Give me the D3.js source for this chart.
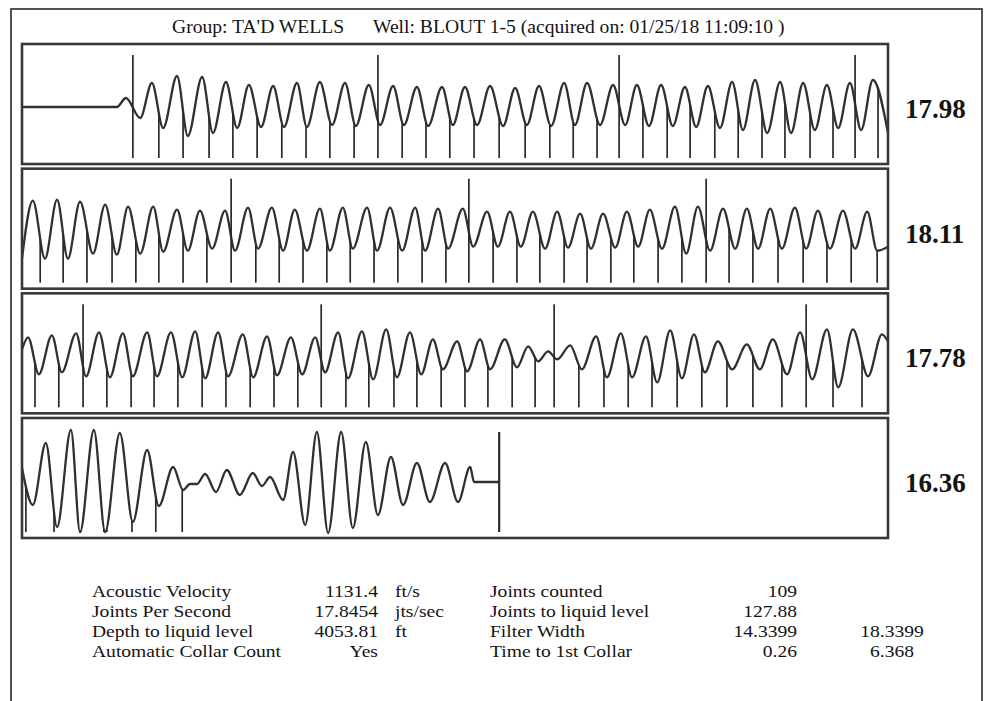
<!DOCTYPE html>
<html><head><meta charset="utf-8">
<script src="https://d3js.org/d3.v7.min.js"></script>
<style>
body{margin:0;background:#fff}
svg{display:block}
text{font-family:"Liberation Serif","Times New Roman",serif;fill:#141414}
</style>
</head><body>
<svg id="c" width="992" height="701"></svg>
<script>
// ---------- header ----------
const titleGroup = "Group: TA'D WELLS";
const titleWell = "Well: BLOUT 1-5 (acquired on: 01/25/18 11:09:10 )";

// ---------- per-panel joint rates (jts/sec) ----------
const panelRates = ["17.98", "18.11", "17.78", "16.36"];

// ---------- waveform extrema: [time ms within 2 s panel, signal amplitude] ----------
const wave1 = [[0,-3],[219,-3],[240,6],[273,-14],[300,21],[326,-24],[358,28],[383,-32],[416,27],[441,-29],
 [471,22],[497,-24],[524,19],[552,-23],[580,18],[605,-23],[635,21],[658,-23],[688,22],[716,-21],
 [746,21],[771,-22],[801,19],[827,-21],[857,18],[882,-21],[912,17],[938,-22],[970,17],[995,-21],
 [1023,17],[1051,-21],[1081,18],[1111,-22],[1139,16],[1166,-21],[1194,18],[1222,-22],[1252,21],[1277,-21],
 [1305,21],[1335,-21],[1365,19],[1393,-21],[1420,19],[1448,-22],[1476,19],[1503,-22],[1531,17],[1557,-23],
 [1584,18],[1612,-24],[1640,22],[1665,-26],[1693,24],[1721,-29],[1751,22],[1776,-29],[1804,21],[1831,-26],
 [1859,19],[1885,-24],[1912,21],[1938,-26],[1965,24],[2000,-29]];
const wave2 = [[0,-30],[25,28],[53,-30],[81,29],[106,-30],[134,27],[164,-25],[192,24],[219,-26],[245,22],
 [273,-25],[303,22],[326,-23],[358,19],[383,-22],[411,18],[439,-20],[469,18],[492,-22],[522,21],
 [545,-20],[577,21],[603,-22],[630,19],[658,-22],[688,20],[711,-22],[741,21],[764,-20],[797,21],
 [820,-22],[850,21],[878,-22],[908,21],[931,-22],[961,20],[984,-20],[1018,20],[1042,-18],[1074,17],
 [1099,-18],[1127,17],[1152,-18],[1180,17],[1208,-20],[1236,17],[1261,-19],[1289,15],[1314,-20],[1342,15],
 [1370,-19],[1397,17],[1423,-18],[1450,19],[1478,-20],[1508,22],[1534,-25],[1561,22],[1589,-22],[1619,20],
 [1647,-20],[1674,20],[1700,-20],[1728,20],[1755,-20],[1785,21],[1811,-20],[1838,18],[1866,-20],[1896,18],
 [1924,-20],[1952,17],[1975,-22],[2000,-18]];
const wave3 = [[0,4],[14,16],[39,-21],[69,18],[92,-19],[125,20],[148,-23],[178,21],[203,-24],[233,20],
 [256,-23],[289,21],[312,-23],[344,21],[370,-24],[400,22],[423,-25],[453,21],[476,-23],[510,19],
 [534,-24],[566,17],[589,-22],[621,16],[647,-21],[677,16],[700,-19],[730,21],[753,-25],[785,22],
 [811,-26],[841,24],[866,-24],[896,21],[922,-21],[949,14],[972,-16],[1005,12],[1028,-18],[1058,14],
 [1081,-16],[1115,14],[1143,-14],[1169,7],[1192,-8],[1215,2],[1236,-6],[1266,8],[1293,-16],[1326,17],
 [1351,-24],[1383,20],[1409,-24],[1441,17],[1467,-29],[1497,23],[1524,-25],[1552,19],[1577,-19],[1607,12],
 [1640,-16],[1674,9],[1704,-16],[1734,14],[1767,-21],[1797,21],[1825,-26],[1859,24],[1885,-34],[1919,24],
 [1954,-23],[1986,19],[2000,12]];
const wave4 = [[0,10],[25,-27],[55,35],[81,-49],[113,48],[134,-54],[166,48],[192,-54],[226,45],[256,-44],
 [289,28],[316,-28],[349,11],[372,-12],[388,-6],[404,-6],[423,4],[448,-14],[473,8],[503,-17],
 [533,5],[554,-8],[573,1],[603,-22],[626,26],[654,-47],[681,46],[707,-55],[737,46],[764,-50],
 [794,36],[822,-37],[852,21],[880,-27],[912,15],[942,-24],[977,15],[1007,-24],[1035,11],[1044,-4],[1102,-4]];

// ---------- detected collars (ms within panel); every 10th collar drawn tall ----------
const collars1 = [316,372,432,487,543,600,656,711,767,878,933,988,1044,1102,1162,1219,1273,1328,1434,1490,1543,1600,1654,1709,1762,1820,1873,1977];
const tenth1 = [256,822,1379,1924];
const collars2 = [42,95,150,208,263,316,372,427,540,594,649,704,758,813,868,924,979,1088,1143,1196,1252,1305,1360,1413,1469,1524,1633,1688,1746,1804,1859,1915,1975];
const tenth2 = [483,1032,1580];
const collars3 = [30,85,196,252,305,360,416,471,527,582,637,748,801,859,912,968,1023,1076,1132,1185,1286,1344,1400,1455,1513,1570,1628,1688,1755,1873,1940];
const tenth3 = [141,691,1229,1811];
const collars4 = [9,74,136,189,196,254,309,370];
const liquidLevel4 = [1102];

// ---------- summary table ----------
const leftLabels = ["Acoustic Velocity","Joints Per Second","Depth to liquid level","Automatic Collar Count"];
const leftValues = ["1131.4","17.8454","4053.81","Yes"];
const leftUnits = ["ft/s","jts/sec","ft",""];
const rightLabels = ["Joints counted","Joints to liquid level","Filter Width","Time to 1st Collar"];
const rightValues = ["109","127.88","14.3399","0.26"];
const extraValues = ["","","18.3399","6.368"];

// ================= drawing =================
const svg = d3.select("#c");
const ink = "#2a2a2a";

svg.append("rect").attr("x",11).attr("y",9).attr("width",971).attr("height",730)
  .attr("fill","none").attr("stroke",ink).attr("stroke-width",1.6);

svg.append("text").attr("x",172).attr("y",33).attr("font-size",19.6).text(titleGroup);
svg.append("text").attr("x",373).attr("y",33).attr("font-size",19.6).text(titleWell);

const panels = [
  {wave: wave1, short: collars1, tall: tenth1, tallTop: 49, rate: panelRates[0]},
  {wave: wave2, short: collars2, tall: tenth2, tallTop: 50, rate: panelRates[1]},
  {wave: wave3, short: collars3, tall: tenth3, tallTop: 49, rate: panelRates[2]},
  {wave: wave4, short: collars4, tall: liquidLevel4, tallTop: 46, rate: panelRates[3]}
];

const x = d3.scaleLinear().domain([0, 2000]).range([22, 888]);
const band = d3.scaleBand().domain(d3.range(panels.length)).range([44, 538]).paddingInner(0.0374);

panels.forEach((p, i) => {
  const top = band(i), h = band.bandwidth();
  const y = d3.scaleLinear().domain([-60, 60]).range([top + h, top]);
  const g = svg.append("g");

  const line = d3.line().x(d => x(d[0])).y(d => y(d[1])).curve(d3.curveMonotoneX);
  const path = g.append("path").datum(p.wave).attr("d", line)
    .attr("fill","none").attr("stroke","#303030").attr("stroke-width",2.3).attr("stroke-linejoin","round");

  const node = path.node(), L = node.getTotalLength();
  const yAt = px => {
    let lo = 0, hi = L;
    for (let k = 0; k < 22; k++) {
      const mid = (lo + hi) / 2;
      if (node.getPointAtLength(mid).x < px) lo = mid; else hi = mid;
    }
    return node.getPointAtLength((lo + hi) / 2).y;
  };

  g.selectAll("line.s").data(p.short).join("line")
    .attr("x1", d => x(d)).attr("x2", d => x(d))
    .attr("y1", d => yAt(x(d))).attr("y2", y(-54))
    .attr("stroke", ink).attr("stroke-width", 1.7);
  g.selectAll("line.t").data(p.tall).join("line")
    .attr("x1", d => x(d)).attr("x2", d => x(d))
    .attr("y1", y(p.tallTop)).attr("y2", y(-54))
    .attr("stroke", ink).attr("stroke-width", i === 3 ? 2.2 : 1.7);

  g.append("rect").attr("x", x(0)).attr("y", top).attr("width", x(2000) - x(0)).attr("height", h)
    .attr("fill","none").attr("stroke","#383838").attr("stroke-width",2.6);

  g.append("text").attr("x", 905).attr("y", top + h/2 + 14)
    .attr("font-size", 27).attr("font-weight","bold").text(p.rate);
});

// summary table: scanned type is slightly wide, so glyphs are stretched horizontally
const rowY = d3.scaleLinear().domain([0, 3]).range([597, 656.5]);
const fs = 17, stretch = 1.15;
const t = svg.append("g");
function cell(s, xpos, i, anchor) {
  if (!s) return;
  const el = t.append("text").attr("x", xpos).attr("y", rowY(i)).attr("font-size", fs)
    .attr("text-anchor", anchor).text(s);
  const w = el.node().getComputedTextLength();
  el.attr("textLength", (w * stretch).toFixed(2)).attr("lengthAdjust", "spacingAndGlyphs");
}
leftLabels.forEach((s,i) => cell(s, 92, i, "start"));
leftValues.forEach((s,i) => cell(s, 378, i, "end"));
leftUnits.forEach((s,i) => cell(s, 395, i, "start"));
rightLabels.forEach((s,i) => cell(s, 490, i, "start"));
rightValues.forEach((s,i) => cell(s, 797, i, "end"));
extraValues.forEach((s,i) => cell(s, 892, i, "middle"));
</script>
</body></html>
